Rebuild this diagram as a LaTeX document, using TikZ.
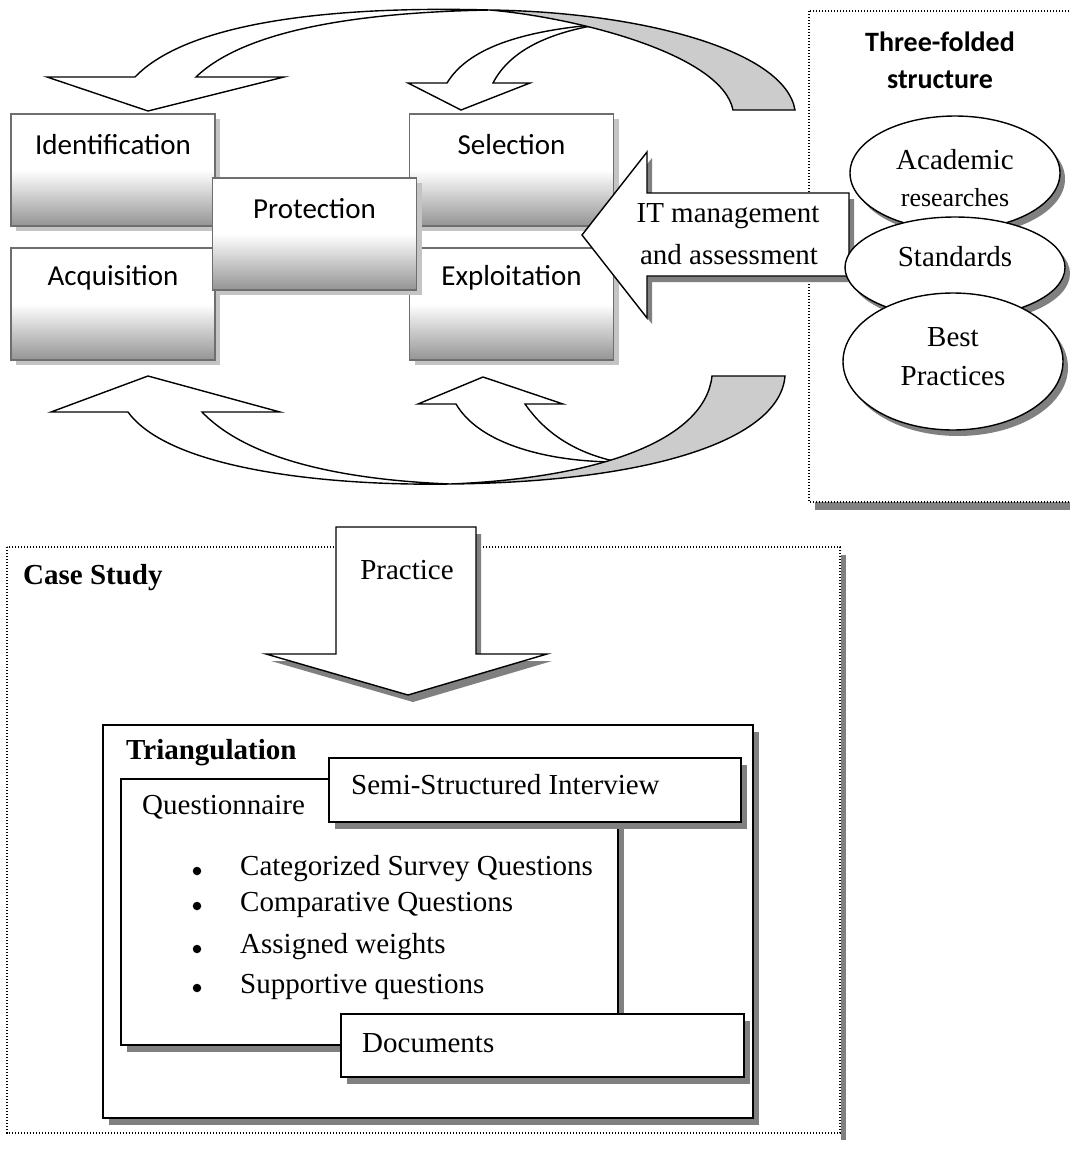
\documentclass[tikz,border=0pt]{standalone}
\usepackage{fontspec}
\setmainfont{Liberation Serif}
\newfontfamily\calfont{Carlito}
\usetikzlibrary{shapes.geometric,shadows}
\definecolor{boxedge}{HTML}{6E6E6E}
\definecolor{lightshadow}{HTML}{C4C4C4}
\definecolor{darkshadow}{HTML}{808080}
\definecolor{ribbon}{HTML}{CCCCCC}
\begin{document}
\begin{tikzpicture}[x=1pt,y=-1pt,
  stepbox/.style={rectangle, draw=boxedge, line width=1.8pt,
    top color=white, bottom color=black!42, middle color=white,
    minimum width=204pt, minimum height=112pt, inner sep=0pt,
    drop shadow={shadow xshift=5pt, shadow yshift=-5pt, fill=lightshadow, opacity=1}},
  caltxt/.style={font=\calfont\fontsize{29}{34}\selectfont, inner sep=0pt},
  calbold/.style={font=\calfont\bfseries\fontsize{28}{34}\selectfont, inner sep=0pt},
  tnr/.style={font=\fontsize{29}{34}\selectfont, inner sep=0pt},
  tnrsmall/.style={font=\fontsize{26}{30}\selectfont, inner sep=0pt},
  tnrbold/.style={font=\bfseries\fontsize{29}{34}\selectfont, inner sep=0pt},
  bulletdot/.style={circle, fill=black, inner sep=0pt, minimum size=8.5pt},
  whitepart/.style={fill=white, draw=black, line width=1.4pt, line join=miter},
  ribbonpart/.style={fill=ribbon, draw=black, line width=1.4pt},
  oval/.style={ellipse, draw=black, line width=1.4pt, fill=white, inner sep=0pt,
    drop shadow={shadow xshift=5pt, shadow yshift=-6pt, fill=darkshadow, opacity=1}},
  tribox/.style={rectangle, draw=black, line width=1.8pt, fill=white, inner sep=0pt,
    drop shadow={shadow xshift=6pt, shadow yshift=-7pt, fill=darkshadow, opacity=1}},
  dotframe/.style={draw=black, line width=1.2pt, dash pattern=on 1.2pt off 1.8pt, fill=white},
  flatshadow/.style={fill=darkshadow, draw=none}
]
\useasboundingbox (0,0) rectangle (1070,1149);
\clip (0,0) rectangle (1070,1149);
\fill[white] (0,0) rectangle (1070,1149);

% dotted frames with their shadows
\fill[flatshadow] (815,19) rectangle (1096,510);
\path[dotframe] (809,11) rectangle (1090,502);
\fill[flatshadow] (841,555) rectangle (846,1140);
\path[dotframe] (7,547) rectangle (840,1133);

% life-cycle boxes
\node[stepbox] (ident) at (113,170) {};
\node[stepbox] (selec) at (511.5,170) {};
\node[stepbox] (acqui) at (113,304) {};
\node[stepbox] (explo) at (511.5,304) {};
\node[stepbox] (prote) at (314.5,234) {};
\node[caltxt] (identlbl) at (113,145) {Identification};
\node[caltxt] (seleclbl) at (511.5,145) {Selection};
\node[caltxt] (acquilbl) at (113,278) {Acquisition};
\node[caltxt] (explolbl) at (511.5,278) {Exploitation};
\node[caltxt] (protelbl) at (314.5,209) {Protection};

% upper curved arrows
\path[whitepart] (135,77) -- (47,77) -- (148,111) -- (284,77) -- (196,77)
  .. controls (250,25) and (380,12) .. (490,10)
  .. controls (340,6) and (190,20) .. (135,77) -- cycle;
\path[whitepart] (447,83) -- (408,83) -- (461,110) -- (530,83) -- (493,83)
  .. controls (510,50) and (550,32) .. (603,24)
  .. controls (530,30) and (470,45) .. (447,83) -- cycle;
\path[ribbonpart] (490,10) .. controls (640,12) and (785,50) .. (795,110)
  -- (733,110) .. controls (722,55) and (580,18) .. (490,10) -- cycle;

% lower curved arrows
\path[whitepart] (128,412) -- (51,412) -- (148,376) -- (280,412) -- (202,412)
  .. controls (250,462) and (350,480) .. (450,484)
  .. controls (330,486) and (170,470) .. (128,412) -- cycle;
\path[whitepart] (456,404) -- (418,404) -- (483,377) -- (563,404) -- (525,404)
  .. controls (550,440) and (585,455) .. (618,462)
  .. controls (550,462) and (480,445) .. (456,404) -- cycle;
\path[ribbonpart] (450,484) .. controls (600,478) and (705,440) .. (712,376)
  -- (785,376) .. controls (780,440) and (650,482) .. (450,484) -- cycle;

% IT management arrow
\fill[flatshadow] (587,241) -- (652,158) -- (652,199) -- (854,199) -- (854,282)
  -- (652,282) -- (652,324) -- cycle;
\path[whitepart] (582,235) -- (647,152) -- (647,193) -- (849,193) -- (849,276)
  -- (647,276) -- (647,318) -- cycle;
\node[tnr] (itlbl1) at (728,216) {IT management};
\node[tnr] (itlbl2) at (729,255) {and assessment};

% three-folded structure
\node[calbold] (tftitle1) at (940,42) {Three-folded};
\node[calbold] (tftitle2) at (940,80) {structure};
\node[oval, minimum width=210pt, minimum height=114pt] (acad) at (955,173) {};
\node[oval, minimum width=220pt, minimum height=101pt] (stand) at (955,267.5) {};
\node[oval, minimum width=220pt, minimum height=137pt] (bestp) at (953,361.5) {};
\node[tnr] (acadlbl1) at (955,160) {Academic};
\node[tnrsmall] (acadlbl2) at (955,198) {researches};
\node[tnr] (standlbl) at (955,257) {Standards};
\node[tnr] (bestlbl1) at (953,337) {Best};
\node[tnr] (bestlbl2) at (953,376) {Practices};

% practice arrow
\fill[flatshadow] (341,534) -- (481,534) -- (481,661) -- (552,661) -- (413,702)
  -- (271,661) -- (341,661) -- cycle;
\path[whitepart] (336,527) -- (476,527) -- (476,654) -- (547,654) -- (408,695)
  -- (266,654) -- (336,654) -- cycle;
\node[tnr] (praclbl) at (407,570) {Practice};
\node[tnrbold, anchor=west] (caselbl) at (23,578) {Case Study};

% triangulation
\node[tribox, minimum width=650pt, minimum height=393pt] (tri) at (428,921.5) {};
\node[tribox, minimum width=497pt, minimum height=266pt] (quest) at (369.5,912) {};
\node[tribox, minimum width=412pt, minimum height=64pt] (semi) at (535,790) {};
\node[tribox, minimum width=403pt, minimum height=63pt] (docs) at (542.5,1045.5) {};
\node[tnrbold, anchor=west] (trilbl) at (126,753) {Triangulation};
\node[tnr, anchor=west] (questlbl) at (142,807) {Questionnaire};
\node[tnr, anchor=west] (semilbl) at (351,785) {Semi-Structured Interview};
\node[tnr, anchor=west] (docslbl) at (362,1043) {Documents};
\node[bulletdot] (bul1) at (197,871) {};
\node[bulletdot] (bul2) at (197,906) {};
\node[bulletdot] (bul3) at (197,949) {};
\node[bulletdot] (bul4) at (197,988) {};
\node[tnr, anchor=west] (item1) at (240,869) {Categorized Survey Questions};
\node[tnr, anchor=west] (item2) at (240,905) {Comparative Questions};
\node[tnr, anchor=west] (item3) at (240,947) {Assigned weights};
\node[tnr, anchor=west] (item4) at (240,987) {Supportive questions};
\end{tikzpicture}
\end{document}
